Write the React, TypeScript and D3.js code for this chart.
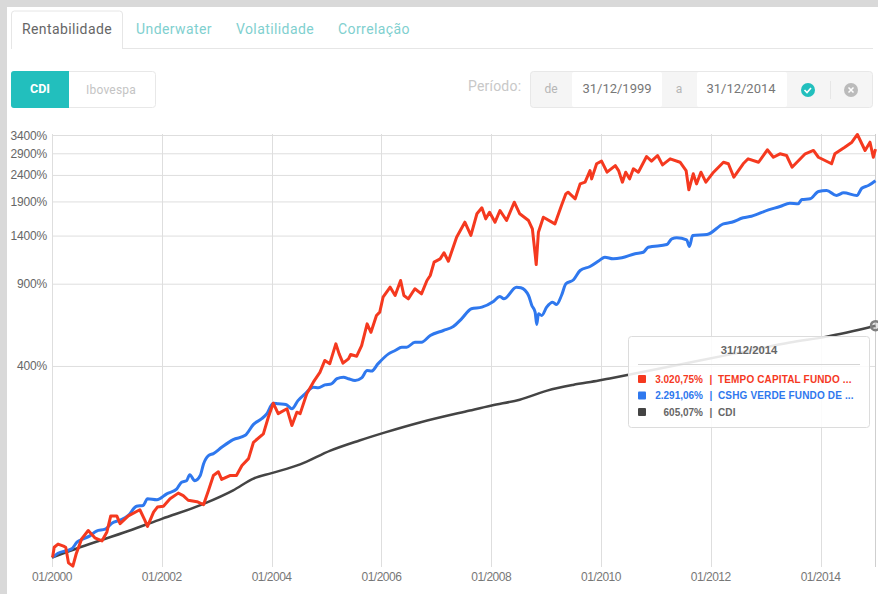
import * as d3 from "d3";

// [ano decimal, rentabilidade acumulada %]
const tempoCurve: [number, number][] = [
  [2000.01, 0], [2000.04, 9], [2000.11, 12], [2000.21, 10], [2000.25, 9], [2000.3, -4.4], [2000.38, -7], [2000.44, 3], [2000.54, 17], [2000.66, 25.5],
  [2000.78, 18], [2000.91, 15], [2001.0, 24], [2001.07, 42], [2001.18, 42], [2001.24, 33], [2001.39, 42], [2001.6, 49.5], [2001.69, 37], [2001.74, 30],
  [2001.85, 46.5], [2001.92, 53], [2002.03, 54], [2002.15, 64], [2002.3, 72], [2002.39, 68.5], [2002.48, 62], [2002.64, 60], [2002.76, 56], [2002.85, 76],
  [2002.94, 99.5], [2003.03, 106], [2003.09, 93], [2003.24, 99.5], [2003.36, 99.5], [2003.46, 117], [2003.58, 130], [2003.67, 164], [2003.85, 183.5], [2003.94, 226],
  [2004.03, 267], [2004.12, 236], [2004.28, 250], [2004.37, 204], [2004.46, 240], [2004.52, 236], [2004.64, 297], [2004.76, 338], [2004.88, 376], [2004.97, 426],
  [2005.06, 412], [2005.17, 505], [2005.23, 456], [2005.3, 414], [2005.4, 433], [2005.44, 453], [2005.55, 445], [2005.64, 496], [2005.74, 616], [2005.81, 567],
  [2005.91, 668], [2005.97, 690], [2006.03, 796], [2006.16, 875], [2006.25, 809], [2006.35, 932], [2006.41, 809], [2006.49, 784], [2006.61, 862], [2006.73, 822],
  [2006.83, 932], [2006.89, 976], [2006.96, 1104], [2007.07, 1138], [2007.14, 1203], [2007.22, 1113], [2007.37, 1385], [2007.52, 1586], [2007.63, 1408], [2007.74, 1710],
  [2007.83, 1803], [2007.9, 1634], [2007.97, 1734], [2008.07, 1586], [2008.16, 1760], [2008.28, 1610], [2008.42, 1895], [2008.52, 1710], [2008.68, 1610], [2008.75, 1494],
  [2008.8, 1192], [2008.82, 1080], [2008.86, 1450], [2008.95, 1658], [2009.16, 1562], [2009.28, 1839], [2009.36, 2041], [2009.4, 2071], [2009.53, 1953], [2009.62, 2229],
  [2009.71, 2262], [2009.8, 2505], [2009.83, 2329], [2009.92, 2658], [2010.01, 2719], [2010.11, 2469], [2010.26, 2617], [2010.32, 2505], [2010.39, 2262], [2010.45, 2469],
  [2010.52, 2329], [2010.59, 2544], [2010.68, 2469], [2010.83, 2832], [2010.92, 2719], [2011.03, 2857], [2011.12, 2633], [2011.26, 2776], [2011.44, 2694], [2011.55, 2505],
  [2011.6, 2115], [2011.68, 2435], [2011.74, 2229], [2011.82, 2469], [2011.91, 2262], [2012.05, 2469], [2012.23, 2694], [2012.32, 2658], [2012.42, 2363], [2012.59, 2658],
  [2012.68, 2776], [2012.87, 2694], [2013.03, 3003], [2013.14, 2814], [2013.26, 2900], [2013.38, 2857], [2013.48, 2579], [2013.72, 2900], [2013.87, 2985], [2013.96, 2814],
  [2014.2, 2658], [2014.26, 2900], [2014.44, 3071], [2014.57, 3208], [2014.67, 3430], [2014.81, 2985], [2014.9, 3208], [2014.96, 2814], [2015.0, 3020.75],
];

const cshgCurve: [number, number][] = [
  [2000.01, 0], [2000.11, 3.7], [2000.27, 6], [2000.36, 7.6], [2000.46, 14], [2000.57, 17], [2000.69, 20], [2000.81, 25], [2000.97, 27], [2001.09, 33.5],
  [2001.24, 37], [2001.39, 42.5], [2001.54, 54], [2001.66, 55], [2001.74, 64], [2001.91, 62.6], [2002.09, 71], [2002.27, 78], [2002.36, 88.5], [2002.45, 91],
  [2002.51, 101], [2002.6, 91], [2002.7, 99.5], [2002.76, 120], [2002.85, 136], [2002.94, 140], [2003.09, 153], [2003.3, 170], [2003.52, 180], [2003.67, 207],
  [2003.82, 222], [2003.91, 235], [2004.03, 267], [2004.12, 265], [2004.26, 263], [2004.37, 250], [2004.48, 275], [2004.61, 297], [2004.76, 320], [2004.85, 318],
  [2004.97, 328], [2005.09, 332], [2005.19, 351], [2005.31, 357], [2005.4, 351], [2005.52, 344], [2005.64, 354], [2005.74, 383], [2005.82, 381], [2005.94, 412],
  [2006.13, 456], [2006.25, 472], [2006.37, 488], [2006.46, 488], [2006.61, 513], [2006.73, 513], [2006.89, 549], [2007.13, 577], [2007.31, 600], [2007.46, 647],
  [2007.64, 713], [2007.83, 724], [2008.04, 765], [2008.16, 802], [2008.23, 784], [2008.46, 875], [2008.54, 870], [2008.68, 809], [2008.74, 736], [2008.8, 690],
  [2008.83, 612], [2008.86, 679], [2008.92, 668], [2009.01, 724], [2009.12, 759], [2009.19, 742], [2009.28, 809], [2009.36, 903], [2009.5, 938], [2009.62, 1022],
  [2009.8, 1061], [2009.97, 1121], [2010.07, 1155], [2010.22, 1138], [2010.38, 1149], [2010.62, 1192], [2010.77, 1209], [2010.86, 1265], [2011.2, 1297], [2011.29, 1366],
  [2011.38, 1378], [2011.56, 1353], [2011.61, 1273], [2011.67, 1408], [2011.93, 1420], [2012.23, 1562], [2012.38, 1586], [2012.59, 1650], [2012.74, 1673], [2013.05, 1771],
  [2013.26, 1824], [2013.44, 1879], [2013.59, 1869], [2013.66, 1941], [2013.81, 1953], [2013.96, 2083], [2014.11, 2102], [2014.29, 2012], [2014.42, 2059], [2014.66, 2012],
  [2014.75, 2144], [2014.87, 2196], [2015.0, 2291.06],
];

const cdiCurve: [number, number][] = [
  [2000.0, 0], [2000.51, 9], [2001.39, 25], [2002.0, 38.5], [2002.76, 57], [2003.3, 76], [2003.67, 94.5], [2004.0, 103.5], [2004.52, 119], [2005.07, 146],
  [2005.6, 168], [2006.07, 187], [2006.7, 212], [2007.61, 245], [2008.01, 260], [2008.52, 278], [2009.02, 308], [2009.49, 328], [2009.96, 344], [2010.16, 352],
  [2010.89, 383], [2011.8, 426], [2012.71, 472], [2013.44, 512], [2014.11, 543], [2015.0, 605.07],
];

const yTicks = [400, 900, 1400, 1900, 2400, 2900, 3400];
const xTicks = [2000, 2002, 2004, 2006, 2008, 2010, 2012, 2014];
const tabs = ["Rentabilidade", "Underwater", "Volatilidade", "Correlação"];
const tooltipRows = [
  { value: "3.020,75%", name: "TEMPO CAPITAL FUNDO ...", color: "#f5391f", text: "#f5391f" },
  { value: "2.291,06%", name: "CSHG VERDE FUNDO DE ...", color: "#2f78ee", text: "#2f78ee" },
  { value: "605,07%", name: "CDI", color: "#444444", text: "#666666" },
];

const din = "Roboto, sans-serif";
const arial = "'Liberation Sans', Arial, sans-serif";

const x = d3.scaleLinear().domain([2000, 2015]).range([52, 875.5]);
// eixo log sobre (1 + r)
const y = d3.scaleLog().domain([1, 35]).range([557.5, 135.5]);
const line = d3
  .line<[number, number]>()
  .x((d) => x(d[0]))
  .y((d) => y(1 + d[1] / 100));
const smoothLine = d3
  .line<[number, number]>()
  .x((d) => x(d[0]))
  .y((d) => y(1 + d[1] / 100))
  .curve(d3.curveMonotoneX);

export default function App() {
  const tabX = [67, 174, 275, 374];
  return (
    <svg width={878} height={594} style={{ position: "fixed", left: 0, top: 0, background: "#fff" }}>
      <rect x={0} y={0} width={878} height={7} fill="#d9d9d9" />
      <rect x={0} y={0} width={7} height={594} fill="#d9d9d9" />

      {/* abas */}
      <line x1={11} x2={873} y1={48.5} y2={48.5} stroke="#e6e6e6" />
      <path d="M11.5 49V14a3 3 0 0 1 3-3h105a3 3 0 0 1 3 3v35" fill="#fff" stroke="#e6e6e6" />
      {tabs.map((t, i) => (
        <text key={t} x={tabX[i]} y={34} textAnchor="middle" fontFamily={din} fontSize={14} letterSpacing={0.4}
          fill={i === 0 ? "#666" : "#7fd0cf"}>{t}</text>
      ))}

      {/* benchmark */}
      <rect x={11.5} y={71.5} width={144} height={36} rx={3} fill="#fff" stroke="#e8e8e8" />
      <path d="M14 71h55v37H14a3 3 0 0 1-3-3V74a3 3 0 0 1 3-3z" fill="#22bfbd" />
      <text x={40} y={93} textAnchor="middle" fontFamily={din} fontSize={12.5} fontWeight={700} fill="#fff">CDI</text>
      <text x={111} y={94} textAnchor="middle" fontFamily={din} fontSize={12} letterSpacing={0.2} fill="#c4c4c4">Ibovespa</text>

      {/* periodo */}
      <text x={468} y={91} fontFamily={din} fontSize={14} letterSpacing={0.2} fill="#c8c8c8">Período:</text>
      <rect x={530.5} y={71.5} width={342} height={36} rx={3} fill="#f5f5f5" stroke="#e8e8e8" />
      <rect x={572} y={72} width={90} height={35} rx={2} fill="#fff" />
      <rect x={697} y={72} width={90} height={35} rx={2} fill="#fff" />
      <text x={551} y={93} textAnchor="middle" fontFamily={din} fontSize={12} fill="#b5b5b5">de</text>
      <text x={679} y={93} textAnchor="middle" fontFamily={din} fontSize={12} fill="#b5b5b5">a</text>
      <text x={617} y={93} textAnchor="middle" fontFamily={din} fontSize={13} fill="#777">31/12/1999</text>
      <text x={741} y={93} textAnchor="middle" fontFamily={din} fontSize={13} fill="#777">31/12/2014</text>
      <circle cx={808} cy={90} r={7} fill="#22bfbd" />
      <path d="M804.5 90l2.5 2.5 4-4.5" fill="none" stroke="#fff" strokeWidth={1.6} />
      <line x1={830.5} x2={830.5} y1={81} y2={99} stroke="#e6e6e6" />
      <circle cx={851} cy={90} r={7} fill="#bbb" />
      <path d="M848.5 87.5l5 5m0-5l-5 5" fill="none" stroke="#fff" strokeWidth={1.5} />

      {/* grade */}
      {yTicks.map((t) => (
        <g key={t}>
          <line x1={52} x2={875} y1={y(1 + t / 100)} y2={y(1 + t / 100)} stroke="#dedede" />
          <text x={47} y={y(1 + t / 100) + 4} textAnchor="end" fontFamily={arial} fontSize={12} letterSpacing={-0.2} fill="#666">{t}%</text>
        </g>
      ))}
      {xTicks.map((t) => (
        <g key={t}>
          <line x1={Math.round(x(t)) + 0.5} x2={Math.round(x(t)) + 0.5} y1={134} y2={567} stroke="#dedede" />
          <text x={x(t)} y={581} textAnchor="middle" fontFamily={arial} fontSize={12} letterSpacing={-0.5} fill="#777">{`01/${t}`}</text>
        </g>
      ))}
      <line x1={875.5} x2={875.5} y1={134} y2={567} stroke="#cfcfcf" />

      {/* series */}
      <path d={smoothLine(cdiCurve) ?? ""} fill="none" stroke="#444444" strokeWidth={2.5} strokeLinejoin="round" />
      <path d={smoothLine(cshgCurve) ?? ""} fill="none" stroke="#2f78ee" strokeWidth={3} strokeLinejoin="round" />
      <path d={line(tempoCurve) ?? ""} fill="none" stroke="#f5391f" strokeWidth={3} strokeLinejoin="round" />
      <circle cx={x(2015)} cy={y(1 + 605.07 / 100)} r={4.5} fill="#bbb" fillOpacity={0.4} stroke="#808080" strokeWidth={2.5} />

      {/* tooltip */}
      <rect x={628.5} y={336.5} width={241} height={91} rx={3} fill="#fff" fillOpacity={0.88} stroke="#dcdcdc" />
      <text x={749} y={354} textAnchor="middle" fontFamily={arial} fontSize={11.3} fontWeight={700} fill="#666">31/12/2014</text>
      <line x1={638} x2={860} y1={364.5} y2={364.5} stroke="#d5d5d5" />
      {tooltipRows.map((r, i) => (
        <g key={r.name} fontFamily={arial} fontSize={10} fontWeight={700} fill={r.text}>
          <rect x={638} y={375 + i * 16.5} width={8} height={8} rx={1} fill={r.color} />
          <text x={703} y={382.5 + i * 16.5} textAnchor="end">{r.value}</text>
          <text x={711} y={382.5 + i * 16.5} textAnchor="middle">|</text>
          <text x={718} y={382.5 + i * 16.5} letterSpacing={0.15}>{r.name}</text>
        </g>
      ))}
    </svg>
  );
}
